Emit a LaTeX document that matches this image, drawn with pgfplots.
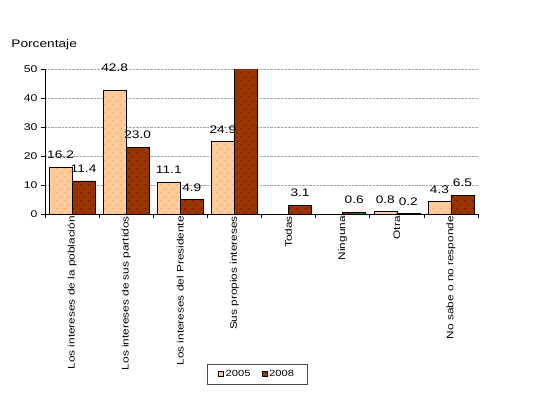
\documentclass[border=0pt]{standalone}
\usepackage{pgfplots}
\pgfplotsset{compat=1.18}
\usetikzlibrary{patterns}
\usepackage{fontspec}
\setmainfont[FakeStretch=1.25]{Liberation Sans}
\definecolor{c05}{HTML}{FFCC99}
\definecolor{c08}{HTML}{993300}
\definecolor{d05}{HTML}{E8A070}
\pgfdeclarepatternformonly{sparsedots}{\pgfpointorigin}{\pgfqpoint{8bp}{8bp}}{\pgfqpoint{8bp}{8bp}}{%
  \pgfpathrectangle{\pgfqpoint{1bp}{1bp}}{\pgfqpoint{1bp}{1bp}}%
  \pgfpathrectangle{\pgfqpoint{5bp}{5bp}}{\pgfqpoint{1bp}{1bp}}%
  \pgfusepath{fill}}
\begin{document}
\begin{tikzpicture}
\path[use as bounding box] (0,0) rectangle (545bp,-394bp);
\begin{axis}[
  at={(45bp,-69bp)}, anchor=north west,
  scale only axis, width=433bp, height=145bp,
  xmin=-0.5, xmax=7.5, ymin=0, ymax=50,
  ybar, bar width=0.425,
  axis x line*=bottom, axis y line*=left,
  axis line style={black, line width=0.7pt},
  ytick={0,10,...,50},
  ymajorgrids, grid style={densely dotted, gray!70, line width=0.6pt},
  tick align=outside, major tick length=4bp,
  tick style={black, line width=0.6pt},
  y tick label style={font=\fontsize{9.8}{12}\selectfont},
  /pgf/number format/assume math mode=true,
  xtick={-0.5,0.5,...,7.5}, xticklabels={},
  extra x ticks={0,1,2,3,4,5,6,7},
  extra x tick labels={Los intereses de la población, Los intereses de sus partidos, Los intereses del Presidente, Sus propios intereses, Todas, Ninguna, Otra, No sabe o no responde},
  extra x tick style={major tick length=0pt,
     tick label style={rotate=90, anchor=east, inner sep=2bp, font=\fontsize{9.5}{10}\selectfont}},
  ylabel={Porcentaje},
  ylabel style={rotate=-90, at={(axis description cs:-0.078,1.166)}, anchor=west, inner sep=0pt, font=\fontsize{11}{12}\selectfont},
  legend style={at={(0.49,-1.103)}, anchor=center, legend columns=2,
     font=\fontsize{9}{10}\selectfont, draw=black!70, line width=0.6pt,
     inner xsep=11bp, inner ysep=4bp,
     /tikz/every even column/.append style={column sep=9bp}},
  legend image code/.code={\draw[#1, line width=0.5pt] (2bp,-2.5bp) rectangle (7bp,2.5bp);},
  every node near coord/.append style={font=\fontsize{11}{12}\selectfont, black, inner ysep=8bp, inner xsep=0pt},
]
\addplot[ybar, bar shift=-0.2125, fill=c05, draw=black, line width=0.6pt,
   postaction={pattern=sparsedots, pattern color=d05},
   nodes near coords, point meta=explicit symbolic]
  coordinates {(0,16.2)[16.2] (1,42.8)[\raisebox{10bp}{42.8}] (2,11.1)[11.1] (3,24.9)[24.9] (6,0.8)[0.8] (7,4.3)[4.3]};
\addlegendentry{2005}
\addplot[ybar, bar shift=0.2125, fill=c08, draw=black, line width=0.6pt,
   postaction={pattern=sparsedots, pattern color=black!85},
   nodes near coords, point meta=explicit symbolic]
  coordinates {(0,11.4)[11.4] (1,23.0)[23.0] (2,4.9)[4.9] (4,3.1)[3.1] (5,0.6)[0.6] (6,0.2)[0.2] (7,6.5)[6.5]};
\addlegendentry{2008}
\addplot[ybar, bar shift=0.2125, fill=c08, draw=black, line width=0.6pt, forget plot,
   postaction={pattern=sparsedots, pattern color=black!85}]
  coordinates {(3,50.3)};
\end{axis}
\end{tikzpicture}
\end{document}
